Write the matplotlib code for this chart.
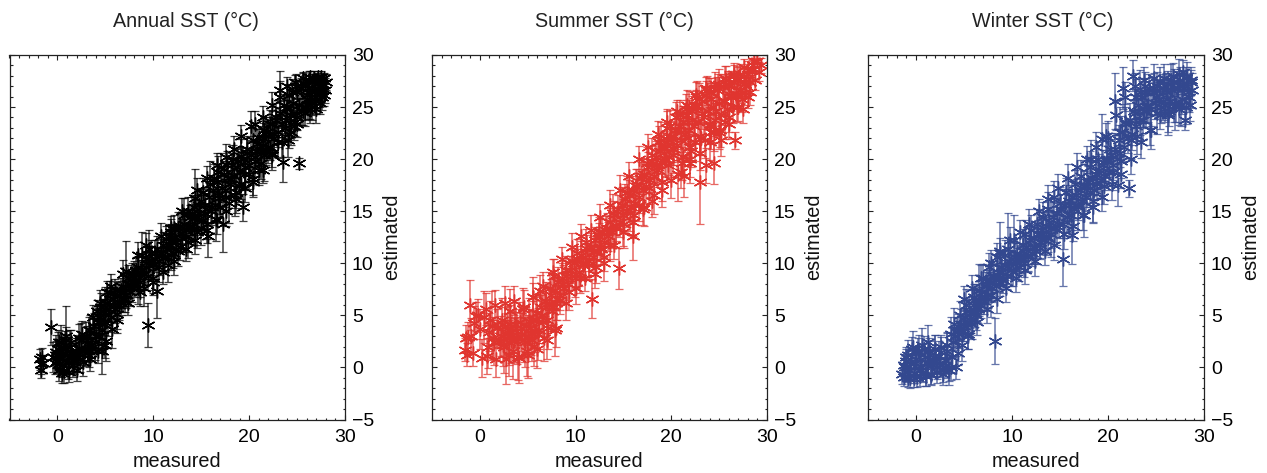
import matplotlib
matplotlib.use('Agg')
import matplotlib.pyplot as plt
from matplotlib.ticker import MultipleLocator

plt.rcParams['font.family'] = ['Liberation Sans', 'DejaVu Sans']

annual_x = [-1.8,-1.7,-1.7,-1.6,-1.5,-0.7,-0.5,-0.3,-0.1,0.0,
            0.1,0.2,0.3,0.4,0.5,0.6,0.7,0.8,0.9,1.0,
            1.1,1.3,1.5,1.7,1.9,2.1,2.3,2.5,2.7,2.9,
            3.1,3.3,3.5,3.7,3.9,4.1,4.3,4.5,4.7,4.9,
            5.0,5.1,5.3,5.5,5.7,5.9,6.0,6.2,6.4,6.6,
            6.8,7.0,7.2,7.4,7.6,7.8,8.0,8.2,8.4,8.6,
            8.8,9.0,9.2,9.4,9.6,9.8,10.0,10.2,10.4,10.6,
            11.0,11.3,11.5,11.7,11.9,12.1,12.3,12.6,12.8,13.0,
            13.2,13.4,13.6,13.8,14.0,14.2,14.4,14.6,14.8,15.0,
            15.2,15.4,15.7,15.9,16.1,16.3,16.5,16.7,16.9,17.1,
            17.3,17.5,17.7,17.9,18.1,18.3,18.5,18.7,18.9,19.1,
            19.4,19.6,19.8,20.0,20.2,20.4,20.6,20.8,21.0,21.2,
            21.4,21.6,21.8,22.0,22.2,22.4,22.6,22.8,23.0,23.2,
            23.5,23.7,23.9,24.1,24.3,24.5,24.7,24.9,25.2,25.4,
            25.6,25.8,26.0,26.2,26.4,26.6,26.8,27.0,27.2,27.4,
            27.5,27.6,27.7,27.8,27.9,28.0,24.4,25.0,26.1,26.9,
            # dense part of the band
            -0.2,0.3,0.6,1.2,1.6,2.0,2.4,2.8,3.0,3.2,3.4,3.6,3.8,4.0,4.2,
            4.4,4.6,4.8,5.0,5.2,5.4,5.6,5.8,6.0,6.2,6.4,6.6,6.8,7.0,7.2,
            7.4,7.6,7.8,8.0,8.2,8.4,8.6,8.8,9.0,9.2,9.4,9.6,9.8,10.0,10.2,
            10.4,10.6,10.8,11.0,11.2,11.4,11.6,11.8,12.0,12.2,12.4,12.6,12.8,13.0,13.2,
            13.4,13.6,13.8,14.0,14.2,14.4,14.6,14.8,15.0,15.2,15.4,15.6,15.8,16.0,16.2,
            16.4,16.6,16.8,17.0,17.2,17.4,17.6,17.8,18.0,18.2,18.4,18.6,18.8,19.0,19.2,
            19.4,19.6,19.8,20.0,20.2,20.4,20.6,20.8,21.0,21.2,21.4,21.6,21.8,22.0,22.2,
            22.4,22.6,22.8,23.0,23.2,23.4,23.6,23.8,24.0,24.2,24.4,24.6,24.8,25.0,25.2,
            25.4,25.6,25.8,26.0,26.2,26.4,26.6,26.8,27.0,27.2,27.4,27.6,27.8,27.0,26.5,
            # upper and lower edge
            0.2,0.9,1.4,2.2,2.6,3.3,4.4,5.2,5.6,6.8,8.4,9.2,10.8,11.8,13.0,
            14.6,15.6,16.6,17.6,18.4,19.2,20.6,21.4,22.4,23.2,24.0,24.8,25.6,26.4,27.2,
            0.5,1.2,2.0,3.4,4.2,5.0,6.2,7.4,8.6,10.0,11.0,12.2,13.4,14.4,15.6,
            16.6,17.6,18.6,19.6,20.4,21.4,22.4,23.4,24.2,25.0,25.8,26.6,27.4]
annual_y = [0.8,0.3,-0.2,1.0,0.4,3.9,1.0,0.4,1.5,0.6,
            1.8,-0.2,1.0,2.4,0.2,1.3,-0.3,1.9,3.0,1.2,
            0.4,2.0,0.9,0.6,1.5,1.0,1.8,2.6,0.5,1.7,
            2.6,1.2,1.9,4.8,2.4,5.4,3.0,5.8,1.6,4.2,
            6.2,2.5,5.0,7.1,3.7,6.0,7.4,5.1,7.0,6.2,
            7.7,6.6,9.3,8.0,7.2,8.8,8.1,9.4,7.6,9.0,
            10.8,7.6,9.6,4.1,11.4,10.3,8.6,11.0,7.3,10.2,
            10.5,12.3,9.8,11.8,13.0,11.0,12.5,13.4,11.6,12.9,
            14.6,12.5,15.0,13.6,14.8,13.2,16.3,14.2,15.6,13.4,
            16.8,14.8,12.6,17.6,15.4,18.2,14.3,18.8,16.3,19.2,
            13.8,17.0,19.4,15.8,18.1,20.0,16.6,19.2,17.4,20.3,
            15.4,18.6,20.6,19.4,23.2,18.1,20.2,21.5,19.0,20.8,
            22.0,20.4,22.6,21.2,23.4,20.6,22.4,24.0,21.6,26.0,
            19.7,23.0,25.0,21.8,24.2,26.4,23.2,27.0,19.6,24.6,
            27.3,25.0,26.2,27.6,24.8,26.6,27.8,25.6,27.2,26.2,
            27.9,26.0,27.2,27.8,26.6,27.4,22.6,24.0,25.2,26.0,
            1.2,0.4,1.8,1.0,0.2,1.4,0.8,1.6,3.0,1.8,3.6,2.2,4.0,3.0,4.4,
            4.8,3.6,5.4,4.4,6.2,5.6,4.8,6.6,5.6,7.0,6.0,7.4,6.6,7.6,7.0,
            8.6,8.0,7.6,9.0,8.4,9.6,8.2,9.4,9.0,10.4,8.8,9.8,11.0,9.8,10.4,
            11.4,9.6,11.0,11.8,10.6,11.4,12.6,10.8,12.0,13.4,12.0,11.2,13.6,12.4,13.8,
            13.2,12.0,14.4,13.6,15.4,14.4,13.0,14.8,16.0,14.2,15.6,13.8,16.4,15.0,17.0,
            15.6,17.8,16.6,15.4,17.2,18.6,16.4,18.2,17.6,19.4,18.4,16.8,19.8,18.8,17.6,
            20.0,19.2,21.0,18.6,20.4,21.8,19.8,20.8,22.0,19.6,21.4,22.8,20.8,22.2,21.2,
            23.4,22.0,23.8,22.6,24.4,23.4,25.2,23.8,24.8,26.2,24.2,25.4,23.6,26.4,25.2,
            26.8,24.6,27.2,25.8,26.8,25.2,27.4,26.4,25.6,27.6,26.6,27.0,26.2,24.8,25.4,
            2.4,2.6,2.4,2.8,3.2,3.6,6.2,7.2,7.8,9.0,10.8,11.8,12.6,13.4,15.0,
            17.0,18.2,19.4,20.2,21.0,22.2,23.4,24.0,25.2,26.6,27.0,27.4,27.8,27.9,27.9,
            -0.5,-0.4,-0.2,0.8,1.6,2.2,4.6,6.2,7.2,8.2,9.2,10.2,11.4,12.2,13.2,
            14.2,15.0,16.2,17.2,17.8,19.0,20.4,21.6,22.4,23.4,24.4,25.0,25.4]
annual_err = [1.0,0.9,0.8,0.9,0.8,1.7,1.4,1.0,1.6,1.1,
              1.6,1.1,1.4,1.7,1.1,1.5,1.2,1.6,2.9,1.7,
              1.5,1.6,1.4,1.2,1.3,1.4,1.3,1.7,1.3,1.6,
              1.4,1.2,1.3,1.2,1.7,1.1,1.6,1.3,2.2,2.4,
              1.5,1.9,2.0,1.2,1.8,1.5,1.1,1.4,1.3,1.2,
              1.2,1.3,2.8,1.2,1.3,1.2,1.3,1.2,1.5,1.3,
              2.2,1.7,1.6,2.1,1.8,1.4,1.5,1.2,2.6,1.3,
              1.2,1.3,1.6,1.5,1.3,1.5,1.3,1.5,1.3,1.4,
              1.7,1.4,1.4,1.5,1.6,1.4,2.8,1.5,1.5,1.6,
              1.4,1.8,2.0,2.2,1.5,1.3,2.2,1.5,1.6,1.4,
              2.7,1.6,1.4,1.9,1.5,1.4,2.1,1.4,1.5,1.6,
              1.3,1.6,1.4,1.6,1.4,1.5,1.5,1.4,1.5,1.5,
              1.5,2.5,1.4,1.6,1.3,1.4,1.5,1.4,1.5,2.5,
              1.9,1.4,1.3,1.6,1.5,1.3,1.4,1.2,0.5,1.3,
              1.0,1.2,1.3,0.9,1.3,1.2,0.7,1.3,0.9,1.2,
              0.6,1.3,0.9,0.5,1.2,0.8,1.2,1.2,1.3,1.3,
              1.3,1.2,1.4,1.3,1.1,1.4,1.2,1.4,1.4,1.3,1.4,1.2,1.2,1.3,1.3,
              1.2,1.4,1.2,1.3,1.2,1.2,1.4,1.1,1.3,1.2,1.4,1.2,1.3,1.2,1.3,
              1.2,1.3,1.3,1.2,1.3,1.1,1.4,1.2,1.3,1.2,1.4,1.3,1.2,1.3,1.2,
              1.2,1.4,1.3,1.2,1.4,1.3,1.2,1.4,1.3,1.2,1.3,1.5,1.2,1.3,1.2,
              1.3,1.5,1.2,1.3,1.2,1.3,1.5,1.3,1.2,1.4,1.3,1.5,1.3,1.3,1.2,
              1.4,1.2,1.3,1.5,1.3,1.2,1.4,1.3,1.4,1.2,1.3,1.5,1.2,1.3,1.4,
              1.2,1.4,1.2,1.5,1.3,1.2,1.4,1.4,1.2,1.5,1.3,1.2,1.4,1.2,1.3,
              1.2,1.4,1.2,1.4,1.2,1.3,1.1,1.3,1.2,1.0,1.3,1.2,1.4,1.0,1.2,
              1.0,1.3,0.9,1.2,1.0,1.3,0.8,1.1,1.2,0.7,1.0,0.9,1.1,1.3,1.2,
              1.2,1.3,1.2,1.4,1.3,1.2,1.2,1.1,1.2,1.3,1.2,1.1,1.3,1.1,1.3,
              1.2,1.1,1.2,1.3,1.2,1.1,1.2,1.1,1.2,0.9,0.9,0.7,0.6,0.6,0.6,
              1.0,1.0,1.1,1.1,1.2,1.3,1.3,1.2,1.3,1.2,1.2,1.3,1.2,1.3,1.3,
              1.4,1.4,1.4,1.3,1.4,1.3,1.4,1.4,1.3,1.3,1.2,1.2,1.1]

summer_x = [-1.6,-1.5,-1.3,-1.2,-1.0,-0.9,-0.7,-0.6,-0.4,0.0,
            0.2,0.4,0.7,0.9,1.1,1.3,1.5,1.7,1.9,2.1,
            2.3,2.5,2.7,2.9,3.1,3.3,3.5,3.7,3.9,4.1,
            4.3,4.5,4.7,4.9,5.1,5.3,5.5,5.7,5.9,6.1,
            6.3,6.5,6.7,6.9,7.1,7.3,7.5,7.7,7.9,8.1,
            8.4,8.7,9.0,9.3,9.6,9.9,10.2,10.5,10.8,11.1,
            11.4,11.7,11.9,12.1,12.4,12.7,13.0,13.3,13.6,13.9,
            14.2,14.5,14.8,15.1,15.4,15.7,16.0,16.3,16.6,16.9,
            17.2,17.5,17.7,18.0,18.2,18.5,18.7,19.0,19.2,19.5,
            19.7,20.0,20.2,20.5,20.7,21.0,21.2,21.5,21.7,22.0,
            22.2,22.5,22.7,23.0,23.2,23.5,23.7,24.0,24.2,24.5,
            24.7,25.0,25.2,25.5,25.7,26.0,26.2,26.5,26.7,27.0,
            27.2,27.5,27.7,28.0,28.2,28.5,28.7,29.0,29.2,29.4,
            22.6,24.5,25.6,26.9,27.7,16.1,18.9,21.3,23.6,25.1,
            # dense part of the band
            1.0,1.4,1.8,2.2,2.4,2.6,2.8,3.0,3.2,3.4,3.6,3.8,4.0,4.2,4.4,
            4.6,4.8,5.0,5.2,5.4,5.6,5.8,6.0,6.2,6.4,6.6,6.8,7.0,7.2,7.4,
            7.6,7.8,8.0,8.2,8.4,8.6,8.8,9.0,9.2,9.4,9.6,9.8,10.0,10.2,10.4,
            10.6,10.8,11.0,11.2,11.4,11.6,11.8,12.0,12.2,12.4,12.6,12.8,13.0,13.2,13.4,
            13.6,13.8,14.0,14.2,14.4,14.6,14.8,15.0,15.2,15.4,15.6,15.8,16.0,16.2,16.4,
            16.6,16.8,17.0,17.2,17.4,17.6,17.8,18.0,18.2,18.4,18.6,18.8,19.0,19.2,19.4,
            19.6,19.8,20.0,20.2,20.4,20.6,20.8,21.0,21.2,21.4,21.6,21.8,22.0,22.2,22.4,
            22.6,22.8,23.0,23.2,23.4,23.6,23.8,24.0,24.2,24.4,24.6,24.8,25.0,25.2,25.4,
            25.6,25.8,26.0,26.2,26.4,26.6,26.8,27.0,27.2,27.4,27.6,27.8,28.0,28.2,28.4,
            18.4,19.3,20.3,21.1,22.1,23.1,24.1,19.9,20.9,21.9,22.9,23.9,24.9,25.9,26.9,
            # upper and lower edge
            -0.2,0.6,1.6,2.6,3.6,4.6,5.6,6.6,7.6,8.6,9.6,10.6,11.6,12.6,13.6,
            14.6,15.6,16.6,17.6,18.6,19.6,20.6,21.6,22.6,23.6,24.6,25.6,26.6,27.6,28.6,
            3.0,4.0,5.0,6.0,7.0,8.0,9.0,10.0,11.0,12.0,13.0,14.0,15.0,
            16.0,17.0,18.0,19.0,20.0,21.0,22.0,23.0,24.0,25.0,26.0,27.0,28.0]
summer_y = [1.7,2.8,1.2,2.9,6.0,3.0,1.4,4.3,4.9,3.7,
            0.9,4.8,1.1,2.0,4.6,4.0,2.4,0.8,3.9,2.5,
            4.6,2.0,0.8,3.6,5.4,2.6,1.6,4.2,2.8,0.9,
            3.8,5.6,2.4,1.6,4.5,3.3,6.8,2.1,4.6,3.2,
            7.3,5.0,2.8,6.4,3.8,7.6,5.4,8.8,3.6,6.6,
            6.5,8.0,9.4,7.2,10.2,8.6,11.0,8.6,10.0,12.0,
            9.8,6.6,11.2,9.6,13.0,11.4,10.0,13.4,11.8,14.8,
            13.4,9.5,15.6,13.8,16.8,14.8,12.6,17.4,15.6,18.4,
            15.4,19.6,17.2,20.4,16.6,19.2,21.6,17.8,21.0,23.0,
            19.4,22.0,20.4,24.0,18.6,22.6,20.2,24.8,22.0,19.6,
            23.8,21.6,26.0,17.8,24.4,21.8,26.6,23.4,25.8,19.6,
            24.6,27.2,21.8,25.6,27.6,23.4,26.2,28.0,21.8,26.2,
            28.2,24.8,27.2,28.6,26.4,29.0,27.6,29.4,28.4,29.0,
            25.0,22.6,23.6,25.0,26.4,14.6,21.8,18.4,19.4,22.8,
            3.4,2.8,3.8,3.0,2.2,4.0,3.2,2.4,4.2,3.4,2.6,3.8,2.8,4.4,3.2,
            2.6,4.0,3.0,3.8,2.6,4.6,3.4,5.2,3.6,5.8,4.4,6.4,4.6,6.0,7.0,
            5.8,7.4,6.2,8.2,7.0,8.6,7.6,8.8,8.0,9.4,8.8,10.0,9.0,10.4,9.2,
            10.8,9.8,10.6,11.4,10.2,11.6,10.6,12.2,11.2,12.6,11.6,13.0,12.0,13.2,12.6,
            14.0,13.0,14.6,13.6,15.2,14.0,15.6,14.6,16.2,15.0,16.6,15.4,17.0,15.8,17.6,
            16.4,18.2,17.0,18.6,17.4,19.2,18.0,19.8,18.4,20.2,19.0,20.8,19.6,21.2,20.0,
            21.6,20.2,22.2,21.0,22.8,21.4,23.2,21.8,23.6,22.4,24.2,22.8,21.2,24.6,23.2,
            25.2,23.6,22.2,25.6,24.0,26.2,24.6,23.2,26.4,25.0,23.8,26.6,25.4,24.2,27.0,
            25.6,24.8,27.0,26.0,25.0,27.4,26.2,27.8,26.6,25.8,28.0,27.0,28.2,27.4,28.6,
            19.4,20.0,21.0,19.6,20.8,22.0,22.6,23.2,24.2,25.0,25.8,26.4,26.8,27.2,27.6,
            5.0,5.6,6.0,6.2,6.4,5.8,6.8,7.8,9.2,10.4,11.6,12.6,13.2,14.4,15.6,
            17.0,18.4,20.0,21.2,22.4,23.6,24.6,25.2,26.2,26.8,27.2,27.8,28.2,28.8,29.4,
            1.2,1.0,1.2,1.8,2.6,3.8,6.2,7.6,8.6,9.0,10.6,11.8,13.0,
            14.0,15.2,16.0,17.0,18.0,18.8,20.0,20.6,21.6,22.6,24.0,25.0,26.0]
summer_err = [1.1,1.3,1.1,1.5,2.4,1.7,1.3,1.6,1.4,1.9,
              1.8,2.5,1.7,2.1,1.8,3.3,2.2,1.7,2.0,1.9,
              2.1,2.5,2.4,2.3,2.1,2.2,2.7,2.3,2.5,2.4,
              2.2,2.0,2.4,2.4,2.2,2.1,1.9,2.0,2.3,2.5,
              1.6,2.0,2.2,1.8,2.0,1.6,1.9,1.6,2.5,2.0,
              1.4,1.8,1.3,1.7,1.3,1.8,1.3,1.5,1.4,1.3,
              1.4,1.9,1.4,1.5,1.4,1.5,1.7,1.4,1.6,1.9,
              1.5,2.0,1.7,2.3,1.6,1.7,2.3,1.7,1.5,1.6,
              1.8,1.6,1.5,1.6,1.9,1.6,1.6,1.8,1.5,1.6,
              1.6,1.6,1.7,1.5,2.6,1.6,1.8,1.5,1.7,1.9,
              1.6,1.8,1.5,4.0,1.5,1.7,1.4,1.6,1.5,2.0,
              1.4,1.5,1.5,1.4,1.3,1.5,1.3,1.0,0.8,1.3,
              0.9,1.3,1.1,0.8,1.2,0.7,1.0,0.6,0.9,0.7,
              1.5,1.8,1.7,1.4,1.2,2.2,1.8,2.0,1.7,1.6,
              1.8,2.0,1.8,1.9,2.1,1.8,2.0,2.2,1.8,2.0,2.1,1.8,2.0,1.9,2.0,
              2.1,1.8,2.0,1.8,2.0,1.8,1.9,1.6,1.8,1.5,1.7,1.5,1.7,1.6,1.5,
              1.6,1.4,1.6,1.4,1.5,1.4,1.5,1.4,1.5,1.3,1.4,1.3,1.4,1.3,1.4,
              1.3,1.4,1.3,1.3,1.4,1.3,1.4,1.3,1.4,1.3,1.4,1.3,1.4,1.3,1.4,
              1.3,1.5,1.4,1.5,1.4,1.5,1.4,1.6,1.4,1.5,1.4,1.6,1.4,1.6,1.5,
              1.6,1.5,1.6,1.5,1.6,1.5,1.6,1.5,1.6,1.5,1.7,1.5,1.6,1.5,1.7,
              1.5,1.7,1.5,1.6,1.5,1.7,1.5,1.6,1.5,1.7,1.5,1.7,1.8,1.5,1.6,
              1.4,1.6,1.8,1.4,1.6,1.3,1.5,1.7,1.4,1.5,1.6,1.3,1.5,1.6,1.2,
              1.3,1.5,1.2,1.4,1.5,1.1,1.3,1.0,1.2,1.3,0.9,1.1,0.9,1.1,0.9,
              1.6,1.6,1.6,1.6,1.6,1.6,1.6,1.5,1.5,1.5,1.5,1.4,1.4,1.3,1.3,
              1.6,1.5,1.4,1.6,1.4,1.6,1.3,1.4,1.2,1.2,1.3,1.2,1.4,1.3,1.4,
              1.5,1.3,1.3,1.2,1.3,1.2,1.1,1.4,1.2,1.1,1.2,1.1,1.0,0.8,0.6,
              2.0,2.2,2.2,1.9,1.8,1.8,1.6,1.5,1.3,1.4,1.3,1.4,1.3,
              1.4,1.5,1.6,1.6,1.7,1.6,1.7,1.6,1.7,1.6,1.4,1.3,1.1]

winter_x = [-1.5,-1.3,-1.2,-1.0,-0.9,-0.8,-0.6,-0.5,-0.3,-0.2,
            0.0,0.1,0.3,0.4,0.6,0.7,0.9,1.0,1.2,1.3,
            1.5,1.6,1.8,2.0,2.2,2.4,2.6,2.8,3.0,3.2,
            3.4,3.6,3.8,4.0,4.2,4.4,4.6,4.8,5.0,5.2,
            5.4,5.6,5.8,6.0,6.2,6.4,6.6,6.8,7.0,7.2,
            7.4,7.6,7.8,8.0,8.2,8.4,8.6,8.8,9.0,9.3,
            9.6,9.9,10.2,10.5,10.8,11.1,11.4,11.7,12.0,12.3,
            12.6,12.9,13.2,13.5,13.8,14.1,14.4,14.7,15.0,15.3,
            15.6,15.9,16.3,16.6,16.9,17.2,17.5,17.8,18.1,18.4,
            18.7,19.0,19.4,19.6,19.9,20.2,20.5,20.7,21.0,21.2,
            21.4,21.6,21.8,22.2,22.4,22.6,22.8,23.0,23.3,23.6,
            23.9,24.2,24.5,24.8,25.1,25.4,25.7,26.0,26.3,26.6,
            26.9,27.2,27.4,27.6,27.8,28.0,28.2,28.4,28.6,28.7,
            22.9,24.0,25.0,26.2,27.0,28.1,13.0,16.0,18.2,20.0,
            # dense part of the band
            -1.1,-0.7,-0.1,0.5,1.1,1.7,2.1,2.5,3.1,3.6,3.9,4.1,4.3,4.5,4.7,
            4.9,5.1,5.3,5.5,5.7,5.9,6.1,6.3,6.5,6.7,6.9,7.1,7.3,7.5,7.7,
            7.9,8.1,8.3,8.5,8.7,8.9,9.1,9.3,9.5,9.7,9.9,10.1,10.3,10.5,10.7,
            10.9,11.1,11.3,11.5,11.7,11.9,12.1,12.3,12.5,12.7,12.9,13.1,13.3,13.5,13.7,
            13.9,14.1,14.3,14.5,14.7,14.9,15.1,15.3,15.5,15.7,15.9,16.1,16.3,16.5,16.7,
            16.9,17.1,17.3,17.5,17.7,17.9,18.1,18.3,18.5,18.7,18.9,19.1,19.3,19.5,19.7,
            19.9,20.1,20.3,20.5,20.7,20.9,21.1,21.3,21.5,21.7,21.9,22.1,22.3,22.5,22.7,
            22.9,23.1,23.3,23.5,23.7,23.9,24.1,24.3,24.5,24.7,24.9,25.1,25.3,25.5,25.7,
            25.9,26.1,26.3,26.5,26.7,26.9,27.1,27.3,27.5,27.7,27.9,28.1,28.3,28.5,28.6,
            # upper and lower edge
            -1.0,-0.4,0.2,0.8,1.4,2.0,2.6,3.2,5.0,5.8,6.8,7.8,8.8,9.8,10.8,11.8,
            12.8,13.8,14.8,15.8,16.8,17.8,18.8,19.8,20.8,21.8,22.8,23.8,24.8,25.8,26.8,27.8,
            -0.8,-0.2,0.4,1.0,1.6,2.2,2.8,3.4,4.4,5.4,6.4,7.4,8.4,9.4,10.4,11.4,
            12.4,13.4,14.4,15.4,16.4,17.4,18.4,19.4,20.4,21.4,22.4,23.4,24.4,25.4,26.4,27.4]
winter_y = [-0.6,0.2,-0.9,0.6,-0.4,1.2,-1.0,0.3,2.0,-0.5,
            0.8,-0.9,1.5,0.1,2.2,-0.4,1.0,-0.8,2.4,0.4,
            1.2,-0.7,0.6,1.8,0.0,1.1,1.5,-0.2,0.7,1.6,
            -0.2,3.2,1.0,4.2,0.0,3.6,5.0,2.2,4.0,6.0,
            3.2,5.2,4.2,6.8,5.0,5.8,7.4,6.0,8.6,6.8,
            8.0,9.6,7.0,8.8,2.5,10.6,8.6,11.0,9.2,10.8,
            11.4,9.4,12.2,10.0,10.6,11.8,12.8,10.8,13.2,11.6,
            13.8,12.0,14.4,12.6,15.2,13.4,16.4,13.6,15.8,10.4,
            16.8,14.6,12.7,17.6,15.4,18.4,14.6,17.4,19.2,16.0,
            18.6,20.0,21.9,17.4,20.0,21.0,18.8,25.6,17.5,22.6,
            19.8,26.8,23.6,17.2,21.8,28.0,24.4,22.2,26.4,23.8,
            27.0,25.2,22.8,26.8,24.4,27.4,25.6,26.6,24.4,27.6,
            25.4,26.8,28.2,25.2,27.2,23.8,28.0,26.0,27.4,26.6,
            26.0,24.6,26.0,24.2,25.2,25.0,12.8,15.6,20.0,22.0,
            0.0,-0.2,0.4,-0.2,0.4,0.2,0.6,0.2,0.2,0.0,2.4,3.0,3.4,3.2,4.2,
            3.8,4.8,4.4,5.4,4.6,6.0,5.2,6.6,5.6,6.4,7.2,6.4,7.8,7.0,8.4,
            7.6,8.8,7.8,9.2,8.2,9.6,8.4,9.8,8.8,10.2,10.0,9.2,10.6,11.0,9.6,
            10.4,11.2,10.0,11.6,10.6,12.2,11.0,12.4,11.2,12.8,11.8,13.2,12.2,13.6,12.4,
            14.0,12.8,14.4,13.4,14.8,13.8,15.2,13.8,15.6,14.4,16.0,14.6,16.4,15.2,16.6,
            15.6,17.0,16.0,17.4,16.4,17.8,16.8,18.2,17.0,18.6,17.6,19.0,18.0,19.4,18.4,
            19.8,18.8,20.4,19.4,21.0,20.0,21.8,20.6,22.6,21.2,23.4,22.0,23.8,22.4,24.6,
            23.2,25.2,23.8,26.0,24.6,26.4,25.0,26.8,24.8,26.4,25.4,27.0,25.8,25.0,26.8,
            25.2,26.4,27.2,25.6,26.6,27.4,25.2,26.8,27.6,25.8,26.8,27.8,26.4,25.2,27.6,
            1.0,1.8,1.6,1.8,1.6,1.8,2.0,2.2,6.6,7.6,8.6,10.0,11.2,12.2,13.0,13.8,
            15.0,16.2,17.2,18.2,19.2,20.0,21.2,22.2,24.2,26.0,27.0,27.6,27.8,27.8,28.0,28.4,
            -1.0,-1.0,-0.8,-0.8,-0.6,-0.4,-0.6,-0.2,1.4,3.0,4.4,5.6,6.6,7.6,8.6,9.4,
            10.2,11.2,11.8,12.8,13.6,14.6,15.4,16.4,17.6,18.6,20.0,21.6,22.8,24.2,24.6,24.8]
winter_err = [1.0,1.1,0.9,1.2,1.0,1.4,1.0,1.1,1.5,1.0,
              1.2,1.0,1.6,1.1,1.6,1.0,1.3,1.0,1.7,1.1,
              1.3,1.0,1.1,1.3,1.1,1.4,1.4,1.2,1.3,1.7,
              1.5,1.6,1.5,1.5,1.1,1.5,1.4,1.6,1.5,1.5,
              1.4,1.4,1.5,1.2,1.4,1.4,2.5,1.3,1.3,1.4,
              1.4,1.4,2.2,1.4,2.2,1.3,1.4,3.0,1.4,1.4,
              3.4,1.6,2.4,1.5,1.3,1.5,1.4,1.6,1.4,1.7,
              1.4,1.6,1.5,1.8,1.6,2.8,1.5,1.8,1.5,2.6,
              1.4,2.0,2.8,1.4,2.2,1.5,2.1,2.0,1.6,2.0,
              1.7,1.6,2.4,1.7,1.7,1.5,1.8,2.7,2.0,2.4,
              1.6,2.0,1.7,0.8,1.8,1.5,2.3,1.7,2.2,2.0,
              1.4,1.6,1.8,1.5,2.0,1.4,1.8,1.7,2.1,1.5,
              1.8,1.7,1.4,2.0,1.4,1.0,1.3,1.5,1.2,1.7,
              1.7,1.6,1.7,1.6,2.4,1.6,1.6,1.5,1.8,1.7,
              1.1,1.1,1.2,1.1,1.2,1.1,1.2,1.1,1.2,1.2,1.4,1.3,1.4,1.3,1.4,
              1.3,1.4,1.3,1.4,1.3,1.4,1.3,1.4,1.3,1.3,1.4,1.3,1.4,1.3,1.4,
              1.3,1.4,1.3,1.4,1.3,1.4,1.3,1.4,1.3,1.4,1.3,1.4,1.3,1.4,1.3,
              1.3,1.4,1.3,1.4,1.3,1.4,1.3,1.4,1.3,1.4,1.3,1.4,1.3,1.4,1.3,
              1.4,1.3,1.5,1.4,1.5,1.4,1.5,1.4,1.5,1.4,1.5,1.4,1.5,1.4,1.5,
              1.4,1.5,1.4,1.5,1.4,1.5,1.4,1.5,1.4,1.5,1.4,1.5,1.4,1.5,1.4,
              1.5,1.4,1.5,1.4,1.5,1.4,1.5,1.4,1.5,1.4,1.6,1.4,1.6,1.5,1.6,
              1.5,1.5,1.5,1.5,1.5,1.4,1.5,1.4,1.6,1.4,1.5,1.4,1.6,1.5,1.4,
              1.6,1.4,1.3,1.5,1.4,1.3,1.6,1.4,1.2,1.5,1.4,1.0,1.3,1.5,1.2,
              1.0,1.1,1.2,1.2,1.2,1.3,1.1,1.2,1.2,1.3,1.2,1.3,1.2,1.3,1.2,1.4,
              1.2,1.3,1.4,1.3,1.4,1.3,1.4,1.3,1.4,1.4,1.3,1.2,1.3,1.3,1.2,1.1,
              0.9,0.9,1.0,1.0,1.0,1.1,1.1,1.1,1.2,1.2,1.3,1.3,1.4,1.3,1.4,1.4,
              1.4,1.4,1.5,1.4,1.5,1.4,1.5,1.4,1.5,1.4,1.4,1.5,1.4,1.3,1.4,1.5]

titles = ['Annual SST (°C)', 'Summer SST (°C)', 'Winter SST (°C)']
colours = ['#000000', '#e0352f', '#33488f']
# left edge, right edge and title centre of each panel in pixels
lefts = [9.5, 432, 868]
rights = [345, 767, 1204]
title_x = [185.5, 614, 1043]

W, H = 1267, 473
fig = plt.figure(figsize=(W/100, H/100), dpi=100)

all_x = [annual_x, summer_x, winter_x]
all_y = [annual_y, summer_y, winter_y]
all_err = [annual_err, summer_err, winter_err]

for i in range(3):
    ax = fig.add_axes([lefts[i]/W, (H-419.5)/H, (rights[i]-lefts[i])/W, 364.5/H])
    ax.errorbar(all_x[i], all_y[i], yerr=all_err[i], fmt='none', ecolor=colours[i],
                elinewidth=1.1, capsize=2.8, capthick=0.9, alpha=0.75)
    ax.plot(all_x[i], all_y[i], ls='none', marker=(6, 2, 0), ms=10, mew=1.0, color=colours[i])
    ax.set_xlim(-5, 30)
    ax.set_ylim(-5, 30)
    ax.xaxis.set_major_locator(MultipleLocator(10))
    ax.xaxis.set_minor_locator(MultipleLocator(1))
    ax.yaxis.set_major_locator(MultipleLocator(5))
    ax.yaxis.set_minor_locator(MultipleLocator(1))
    ax.tick_params(which='both', direction='in', top=True, right=True, left=True, bottom=True,
                   labelleft=False, labelright=True, width=0.8, color='#222222')
    ax.tick_params(which='major', length=3.5, labelsize=14, pad=5)
    ax.tick_params(axis='x', which='major', pad=7)
    ax.tick_params(which='minor', length=1.8)
    for s in ax.spines.values():
        s.set_linewidth(0.9)
        s.set_color('#222222')
    ax.set_xlabel('measured', fontsize=14.3, labelpad=4, color='#111111')
    ax.yaxis.set_label_position('right')
    ax.set_ylabel('estimated', fontsize=14.3, labelpad=6, color='#111111')
    fig.text(title_x[i]/W, (H-21)/H, titles[i], fontsize=14.2, ha='center', va='center', color='#222222')

fig.savefig('out.png', dpi=100)
